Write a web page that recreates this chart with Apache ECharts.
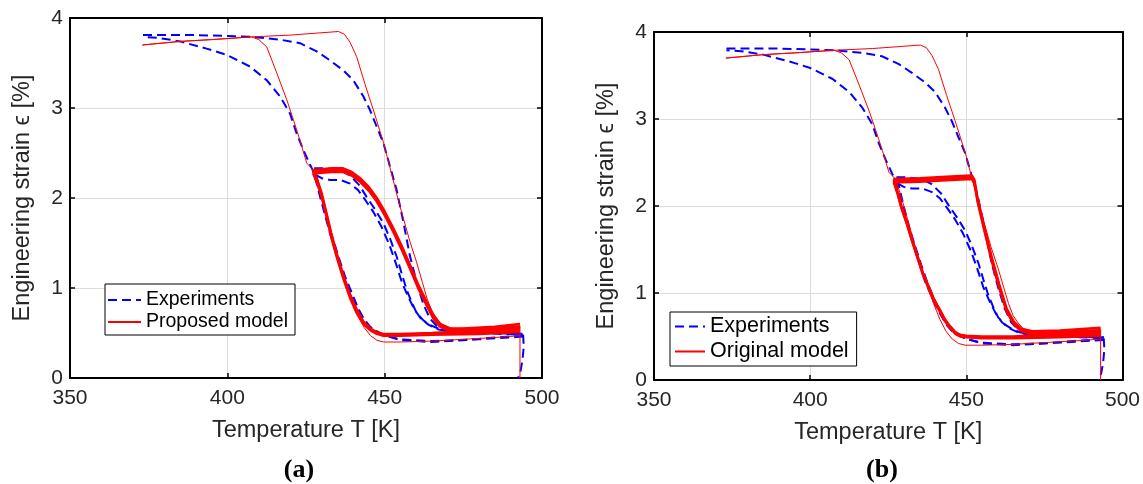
<!DOCTYPE html>
<html>
<head>
<meta charset="utf-8">
<script src="https://cdn.jsdelivr.net/npm/echarts@6/dist/echarts.min.js"></script>
<style>
html, body { margin: 0; padding: 0; background: #fff; }
#main { width: 1143px; height: 484px; }
</style>
</head>
<body>
<div id="main"></div>
<script>
// axis ticks
const xTicks = [350, 400, 450, 500];
const yTicks = [0, 1, 2, 3, 4];

// experiments (blue dashed), [T, strain]
const expHeatOuter = [[373.2,3.81],[380,3.81],[390,3.81],[400,3.80],[408,3.79],[416.7,3.76],[423.1,3.72],[428.4,3.63],[432.6,3.53],[436.8,3.42],[440,3.31],[443.2,3.13],[445.3,2.98],[447.5,2.79],[449.6,2.61],[451.7,2.35],[453.8,2.09],[455.9,1.74],[458,1.36],[460.2,1.06],[462.3,0.82],[464.4,0.66],[466.5,0.58],[469,0.53],[475,0.51],[485,0.50],[494,0.49]];
const expCoolOuter = [[494,0.47],[485,0.45],[475,0.42],[465,0.40],[455,0.42],[449.6,0.48],[447,0.53],[445.3,0.57],[443,0.68],[441.1,0.79],[439,0.95],[436.8,1.13],[434.7,1.37],[432.6,1.61],[430.5,1.88],[428.4,2.16],[427.5,2.28],[426.3,2.37],[424.2,2.53],[422,2.72],[419.9,2.94],[416.7,3.13],[412.5,3.31],[407.2,3.46],[399.8,3.59],[393.4,3.66],[385,3.74],[378,3.78],[373.2,3.79]];
const expHeatInner1 = [[427.6,2.33],[431,2.33],[435.8,2.31],[439,2.25],[442,2.14],[444.3,2.01],[447,1.87],[449.6,1.72],[451.7,1.55],[453.8,1.35],[455.5,1.15],[457,0.98],[458.6,0.84],[460.2,0.72],[462.3,0.64],[464.4,0.59],[467,0.55],[469.7,0.53],[475,0.51],[485,0.50],[494,0.49]];
const expHeatInner2 = [[427.9,2.26],[430,2.22],[432.6,2.20],[436,2.20],[439,2.16],[441.5,2.09],[444,1.97],[446.5,1.84],[449,1.68],[451.5,1.48],[453.5,1.28],[455.5,1.06],[457.5,0.90],[459.5,0.76],[461.5,0.66],[464,0.59],[467,0.54],[471,0.52],[480,0.50],[494,0.48]];
const expCoolInner = [[494,0.46],[480,0.43],[465,0.41],[455,0.43],[450,0.47],[446,0.54],[443.5,0.64],[441.5,0.78],[439.5,0.95],[437.5,1.12],[435.5,1.33],[433.5,1.55],[431.5,1.78],[429.8,2.02],[428.5,2.22],[427.8,2.30]];
const expDrop = [[494,0.48],[494.2,0.35],[493.8,0.20],[493.2,0.08],[492.4,0]];

// model outer loop (thin red), same in both panels
const modelHeatOuter = [[373,3.70],[385,3.74],[395,3.76],[407.7,3.79],[420,3.81],[435.3,3.85],[437.2,3.82],[439,3.73],[441.1,3.57],[443.7,3.27],[446.4,2.98],[449.6,2.62],[452.7,2.20],[454.3,1.98],[455.9,1.78],[458,1.52],[460.2,1.28],[462,1.06],[463.5,0.88],[465,0.74],[466.5,0.66],[468,0.60],[469.7,0.56],[472,0.55],[480,0.56],[493,0.58]];
const modelCoolOuter = [[493,0.47],[485,0.45],[475,0.43],[465,0.41],[455,0.40],[449.6,0.40],[447.5,0.42],[445.5,0.47],[443.5,0.56],[441.5,0.70],[439.5,0.88],[437,1.12],[434.8,1.38],[432.5,1.68],[430,2.00],[427.5,2.30],[425.2,2.39],[423.1,2.64],[421,2.87],[418.9,3.09],[415.7,3.39],[412.5,3.68],[410,3.76],[407.7,3.79],[395,3.76],[385,3.74],[373,3.70]];
const modelDrop = [[493,0.58],[493,0]];

// proposed model, partial cycles (a)
const propLoop1 = [[493,0.51],[480,0.49],[465,0.48],[455,0.47],[449.6,0.47],[447.5,0.49],[445.5,0.53],[443.2,0.60],[441,0.73],[439,0.89],[437,1.09],[434.8,1.34],[433,1.57],[431.6,1.78],[430,2.01],[428.5,2.17],[427.3,2.27],[430,2.28],[433,2.29],[436.8,2.29],[439.5,2.25],[442.2,2.18],[445,2.08],[447.5,1.96],[450,1.81],[452.8,1.62],[455.5,1.42],[458,1.22],[460.5,1.01],[463.3,0.81],[465.5,0.66],[467.6,0.57],[470.8,0.52],[475,0.51],[485,0.52],[493,0.54]];
const propLoop2 = [[493,0.54],[480,0.51],[465,0.49],[455,0.48],[449.6,0.48],[447.5,0.50],[445.5,0.54],[443.2,0.62],[441,0.75],[439,0.91],[437,1.11],[434.8,1.36],[433,1.59],[431.6,1.80],[430,2.03],[428.5,2.19],[427.3,2.29],[430,2.30],[433,2.31],[436.8,2.31],[439.5,2.27],[442.2,2.20],[445,2.10],[447.5,1.98],[450,1.83],[452.8,1.64],[455.5,1.44],[458,1.24],[460.5,1.03],[463.3,0.83],[465.5,0.68],[467.6,0.59],[470.8,0.54],[475,0.53],[485,0.55],[493,0.57]];
const propLoop3 = [[493,0.56],[480,0.53],[465,0.50],[455,0.49],[449.6,0.49],[447.5,0.51],[445.5,0.55],[443.2,0.63],[441,0.77],[439,0.93],[437,1.13],[434.8,1.38],[433,1.61],[431.6,1.82],[430,2.05],[428.5,2.21],[427.3,2.31],[430,2.32],[433,2.33],[436.8,2.33],[439.5,2.29],[442.2,2.22],[445,2.12],[447.5,2.00],[450,1.85],[452.8,1.66],[455.5,1.46],[458,1.26],[460.5,1.05],[463.3,0.85],[465.5,0.70],[467.6,0.60],[470.8,0.55],[475,0.55],[485,0.57],[493,0.60]];

// original model, partial cycles (b)
const origLoop1 = [[493,0.51],[480,0.49],[465,0.48],[455,0.48],[450,0.49],[448,0.50],[446.5,0.53],[444.5,0.61],[443.1,0.68],[441.5,0.79],[439.6,0.91],[438,1.05],[436.1,1.21],[434.5,1.39],[432.6,1.60],[431,1.79],[429.2,1.98],[428,2.14],[426.8,2.27],[435,2.28],[445,2.30],[451.8,2.31],[452.6,2.26],[453.6,2.05],[455.9,1.70],[458.2,1.36],[460.6,1.05],[462.9,0.79],[465.2,0.64],[467.6,0.56],[471.1,0.53],[480,0.53],[493,0.55]];
const origLoop2 = [[493,0.53],[480,0.51],[465,0.49],[455,0.49],[450,0.50],[448,0.51],[446.5,0.54],[444.5,0.62],[443.1,0.69],[441.5,0.80],[439.6,0.92],[438,1.06],[436.1,1.22],[434.5,1.40],[432.6,1.61],[431,1.80],[429.2,1.99],[428,2.15],[426.8,2.29],[435,2.30],[445,2.32],[451.8,2.33],[452.6,2.28],[453.6,2.07],[455.9,1.72],[458.2,1.38],[460.6,1.07],[462.9,0.80],[465.2,0.65],[467.6,0.57],[471.1,0.54],[480,0.55],[493,0.57]];
const origLoop3 = [[493,0.56],[480,0.53],[465,0.50],[455,0.50],[450,0.51],[448,0.52],[446.5,0.55],[444.5,0.63],[443.1,0.70],[441.5,0.81],[439.6,0.93],[438,1.07],[436.1,1.23],[434.5,1.41],[432.6,1.62],[431,1.81],[429.2,2.00],[428,2.16],[426.8,2.31],[435,2.32],[445,2.34],[451.8,2.35],[452.6,2.30],[453.6,2.09],[455.9,1.74],[458.2,1.40],[460.6,1.09],[462.9,0.82],[465.2,0.67],[467.6,0.59],[471.1,0.56],[480,0.57],[493,0.60]];

const font = '"Liberation Sans", Arial, Helvetica, sans-serif';
const dashed = { color: '#0000ff', width: 2, type: [9, 5] };
const thin = { color: '#ff0000', width: 1 };
const thick = { color: '#ff0000', width: 2.5 };

function line(name, data, panel, style) {
    return {
        name: name,
        type: 'line',
        xAxisIndex: panel * 2,
        yAxisIndex: panel * 2,
        data: data,
        symbol: 'none',
        showSymbol: false,
        silent: true,
        itemStyle: { color: style.color },
        lineStyle: style,
        z: style.color === '#0000ff' ? 2 : 3
    };
}

function bottomAxis(grid) {
    return {
        type: 'value', gridIndex: grid, min: xTicks[0], max: xTicks[xTicks.length - 1], interval: 50, position: 'bottom',
        name: 'Temperature T [K]', nameLocation: 'middle', nameGap: 41,
        nameTextStyle: { fontFamily: font, fontSize: 23.5, color: '#262626' },
        axisLine: { show: true, onZero: false, lineStyle: { color: '#000', width: 2 } },
        axisTick: { show: true, inside: true, length: 5, lineStyle: { color: '#000', width: 1.5 } },
        axisLabel: { fontFamily: font, fontSize: 21, color: '#262626', margin: 10 },
        splitLine: { show: true, lineStyle: { color: '#dcdcdc', width: 1 } }
    };
}
function topAxis(grid) {
    return {
        type: 'value', gridIndex: grid, min: xTicks[0], max: xTicks[xTicks.length - 1], interval: 50, position: 'top',
        axisLine: { show: true, onZero: false, lineStyle: { color: '#000', width: 2 } },
        axisTick: { show: true, inside: true, length: 5, lineStyle: { color: '#000', width: 1.5 } },
        axisLabel: { show: false },
        splitLine: { show: false }
    };
}
function leftAxis(grid) {
    return {
        type: 'value', gridIndex: grid, min: yTicks[0], max: yTicks[yTicks.length - 1], interval: 1, position: 'left',
        name: 'Engineering strain \u03f5 [%]', nameLocation: 'middle', nameGap: 35,
        nameTextStyle: { fontFamily: font, fontSize: 23.5, color: '#262626' },
        axisLine: { show: true, onZero: false, lineStyle: { color: '#000', width: 2 } },
        axisTick: { show: true, inside: true, length: 5, lineStyle: { color: '#000', width: 1.5 } },
        axisLabel: { fontFamily: font, fontSize: 21, color: '#262626', margin: 7 },
        splitLine: { show: true, lineStyle: { color: '#dcdcdc', width: 1 } }
    };
}
function rightAxis(grid) {
    return {
        type: 'value', gridIndex: grid, min: yTicks[0], max: yTicks[yTicks.length - 1], interval: 1, position: 'right',
        axisLine: { show: true, onZero: false, lineStyle: { color: '#000', width: 2 } },
        axisTick: { show: true, inside: true, length: 5, lineStyle: { color: '#000', width: 1.5 } },
        axisLabel: { show: false },
        splitLine: { show: false }
    };
}

const series = [];
[0, 1].forEach(function (p) {
    series.push(line('Experiments', expHeatOuter, p, dashed));
    series.push(line('Experiments', expCoolOuter, p, dashed));
    series.push(line('Experiments', expHeatInner1, p, dashed));
    series.push(line('Experiments', expHeatInner2, p, dashed));
    series.push(line('Experiments', expCoolInner, p, dashed));
    series.push(line('Experiments', expDrop, p, dashed));
});
const modelA = 'Proposed model', modelB = 'Original model';
[propLoop1, propLoop2, propLoop3].forEach(function (d) { series.push(line(modelA, d, 0, thick)); });
series.push(line(modelA, modelHeatOuter, 0, thin));
series.push(line(modelA, modelCoolOuter, 0, thin));
series.push(line(modelA, modelDrop, 0, thin));
[origLoop1, origLoop2, origLoop3].forEach(function (d) { series.push(line(modelB, d, 1, thick)); });
series.push(line(modelB, modelHeatOuter, 1, thin));
series.push(line(modelB, modelCoolOuter, 1, thin));
series.push(line(modelB, modelDrop, 1, thin));

const myChart = echarts.init(document.getElementById('main'));
const option = {
    animation: false,
    backgroundColor: '#fff',
    title: [
        { text: '(a)', left: 294, top: 452, textAlign: 'center',
          textStyle: { fontFamily: '"Liberation Serif", "Times New Roman", serif', fontWeight: 'bold', fontSize: 26, color: '#000' } },
        { text: '(b)', left: 877, top: 452, textAlign: 'center',
          textStyle: { fontFamily: '"Liberation Serif", "Times New Roman", serif', fontWeight: 'bold', fontSize: 26, color: '#000' } }
    ],
    legend: [
        { data: ['Experiments', 'Proposed model'], orient: 'vertical', left: 105, top: 284,
          backgroundColor: '#fff', borderColor: '#000', borderWidth: 1, padding: [5, 7, 2, 2],
          itemGap: 0, itemWidth: 33, itemHeight: 12, selectedMode: false,
          itemStyle: { opacity: 0 },
          lineStyle: { width: 2 },
          textStyle: { fontFamily: font, fontSize: 19.5, color: '#000', lineHeight: 22 } },
        { data: ['Experiments', 'Original model'], orient: 'vertical', left: 670, top: 312,
          backgroundColor: '#fff', borderColor: '#000', borderWidth: 1, padding: [2, 8, 2, 4],
          itemGap: 0, itemWidth: 30, itemHeight: 12, selectedMode: false,
          itemStyle: { opacity: 0 },
          lineStyle: { width: 2 },
          textStyle: { fontFamily: font, fontSize: 21.5, color: '#000', lineHeight: 25 } }
    ],
    grid: [
        { left: 70, top: 18, width: 472, height: 360 },
        { left: 654, top: 32, width: 471, height: 348 }
    ],
    xAxis: [bottomAxis(0), topAxis(0), bottomAxis(1), topAxis(1)],
    yAxis: [leftAxis(0), rightAxis(0), leftAxis(1), rightAxis(1)],
    series: series
};
myChart.setOption(option);
</script>
</body>
</html>
